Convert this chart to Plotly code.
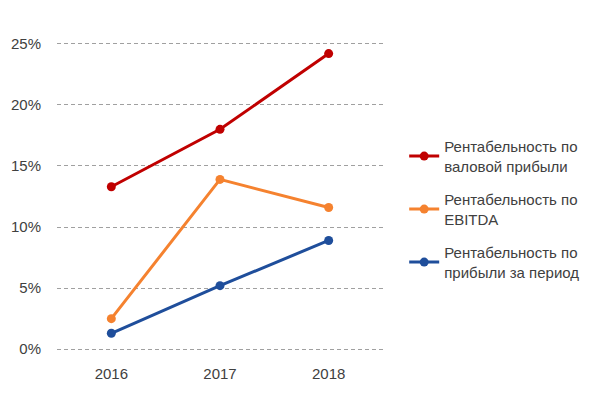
import plotly.graph_objects as go

years = ["2016", "2017", "2018"]
gross = [13.3, 18.0, 24.2]
ebitda = [2.5, 13.9, 11.6]
net = [1.3, 5.2, 8.9]
names = ["Рентабельность по<br>валовой прибыли",
         "Рентабельность по<br>EBITDA",
         "Рентабельность по<br>прибыли за период"]
colors = ["#C00000", "#F5822F", "#1F4E9B"]
tick_vals = [0, 5, 10, 15, 20, 25]
tick_text = ["0%", "5%", "10%", "15%", "20%", "25%"]

fig = go.Figure()
for i, (vals, name, col) in enumerate(zip([gross, ebitda, net], names, colors)):
    fig.add_trace(go.Scatter(
        x=years, y=vals, name=name, mode="lines+markers",
        legendgroup=f"g{i}",
        line=dict(color=col, width=3),
        marker=dict(color=col, size=9),
    ))

font = dict(family="Liberation Sans, Arial, sans-serif", size=15, color="#404040")
fig.update_layout(
    width=606, height=410,
    margin=dict(l=57, r=223, t=42, b=59),
    plot_bgcolor="white", paper_bgcolor="white",
    font=font,
    showlegend=True,
    legend=dict(x=1.065, y=0.715, xanchor="left", yanchor="top",
                font=dict(size=15, color="#404040"),
                tracegroupgap=11, bgcolor="rgba(0,0,0,0)"),
    xaxis=dict(type="category", range=[-0.5, 2.5], showgrid=False,
               zeroline=False, showline=False, ticks="",
               ticklabelstandoff=12,
               tickfont=dict(size=15, color="#404040")),
    yaxis=dict(range=[-0.15, 25.15], tickvals=tick_vals, ticktext=tick_text,
               showgrid=True, gridcolor="#A0A0A0", griddash="4px,3px", gridwidth=1,
               zeroline=False, showline=False, ticks="",
               ticklabelstandoff=15,
               tickfont=dict(size=15, color="#404040")),
)
fig.write_html("out.html")
